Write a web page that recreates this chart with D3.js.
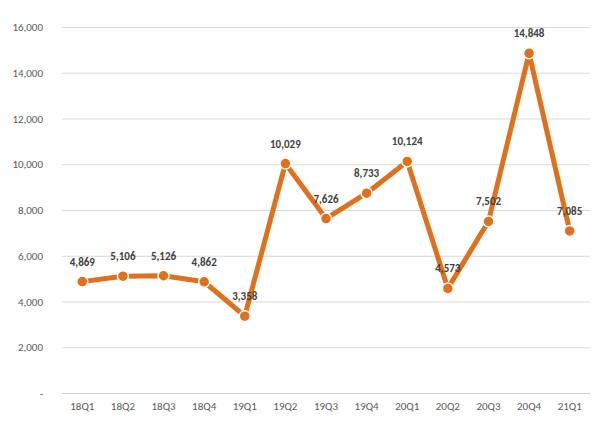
<!DOCTYPE html>
<html><head><meta charset="utf-8">
<script src="https://cdn.jsdelivr.net/npm/d3@7"></script>
<style>body{margin:0;background:#fff}svg{display:block}</style>
</head><body>
<svg id="c" width="604" height="424"></svg>
<script>
const categories = ["18Q1","18Q2","18Q3","18Q4","19Q1","19Q2","19Q3","19Q4","20Q1","20Q2","20Q3","20Q4","21Q1"];
const values = [4869,5106,5126,4862,3358,10029,7626,8733,10124,4573,7502,14848,7085];
const yTicks = [0,2000,4000,6000,8000,10000,12000,14000,16000];

const svg = d3.select("#c");
const font = "Calibri, Carlito, 'Liberation Sans', 'DejaVu Sans', sans-serif";
const x = d3.scaleBand().domain(categories).range([62,590]);
const y = d3.scaleLinear().domain([0,16000]).range([393,27]);
const fmt = d3.format(",");
const color = "#E0701B";

// gridlines
svg.append("g").selectAll("line").data(yTicks).join("line")
  .attr("x1",62).attr("x2",590)
  .attr("y1",d=>y(d)+0.5).attr("y2",d=>y(d)+0.5)
  .attr("stroke",d=>d===0?"#d0d0d0":"#d9d9d9").attr("stroke-width",1);

// y axis labels
const yAxis = d3.axisLeft(y).tickValues(yTicks).tickSize(0).tickPadding(0)
  .tickFormat(d=>d===0?"-":fmt(d));
const gy = svg.append("g").attr("transform","translate(43,0)").call(yAxis);
gy.select(".domain").remove();
gy.selectAll("text").attr("font-family",font).attr("font-size",11).attr("fill","#595959");

// x axis labels
const xAxis = d3.axisBottom(x).tickSize(0).tickPadding(0);
const gx = svg.append("g").attr("transform","translate(0,402)").call(xAxis);
gx.select(".domain").remove();
gx.selectAll("text").attr("font-family",font).attr("font-size",11).attr("fill","#595959");

const cx = d=>x(d)+x.bandwidth()/2;
const data = categories.map((c,i)=>({c,v:values[i]}));

svg.append("path").datum(data)
  .attr("d",d3.line().x(d=>cx(d.c)).y(d=>y(d.v)))
  .attr("fill","none").attr("stroke",color).attr("stroke-width",5)
  .attr("stroke-linejoin","round");

svg.append("g").selectAll("circle").data(data).join("circle")
  .attr("cx",d=>cx(d.c)).attr("cy",d=>y(d.v)).attr("r",5.5)
  .attr("fill",color).attr("stroke","#fff").attr("stroke-width",1.5);

svg.append("g").selectAll("text").data(data).join("text")
  .attr("x",d=>cx(d.c)).attr("y",d=>y(d.v)-16)
  .attr("text-anchor","middle")
  .attr("font-family",font).attr("font-size",11).attr("font-weight","bold")
  .attr("fill","#404040").text(d=>fmt(d.v));
</script>
</body></html>
